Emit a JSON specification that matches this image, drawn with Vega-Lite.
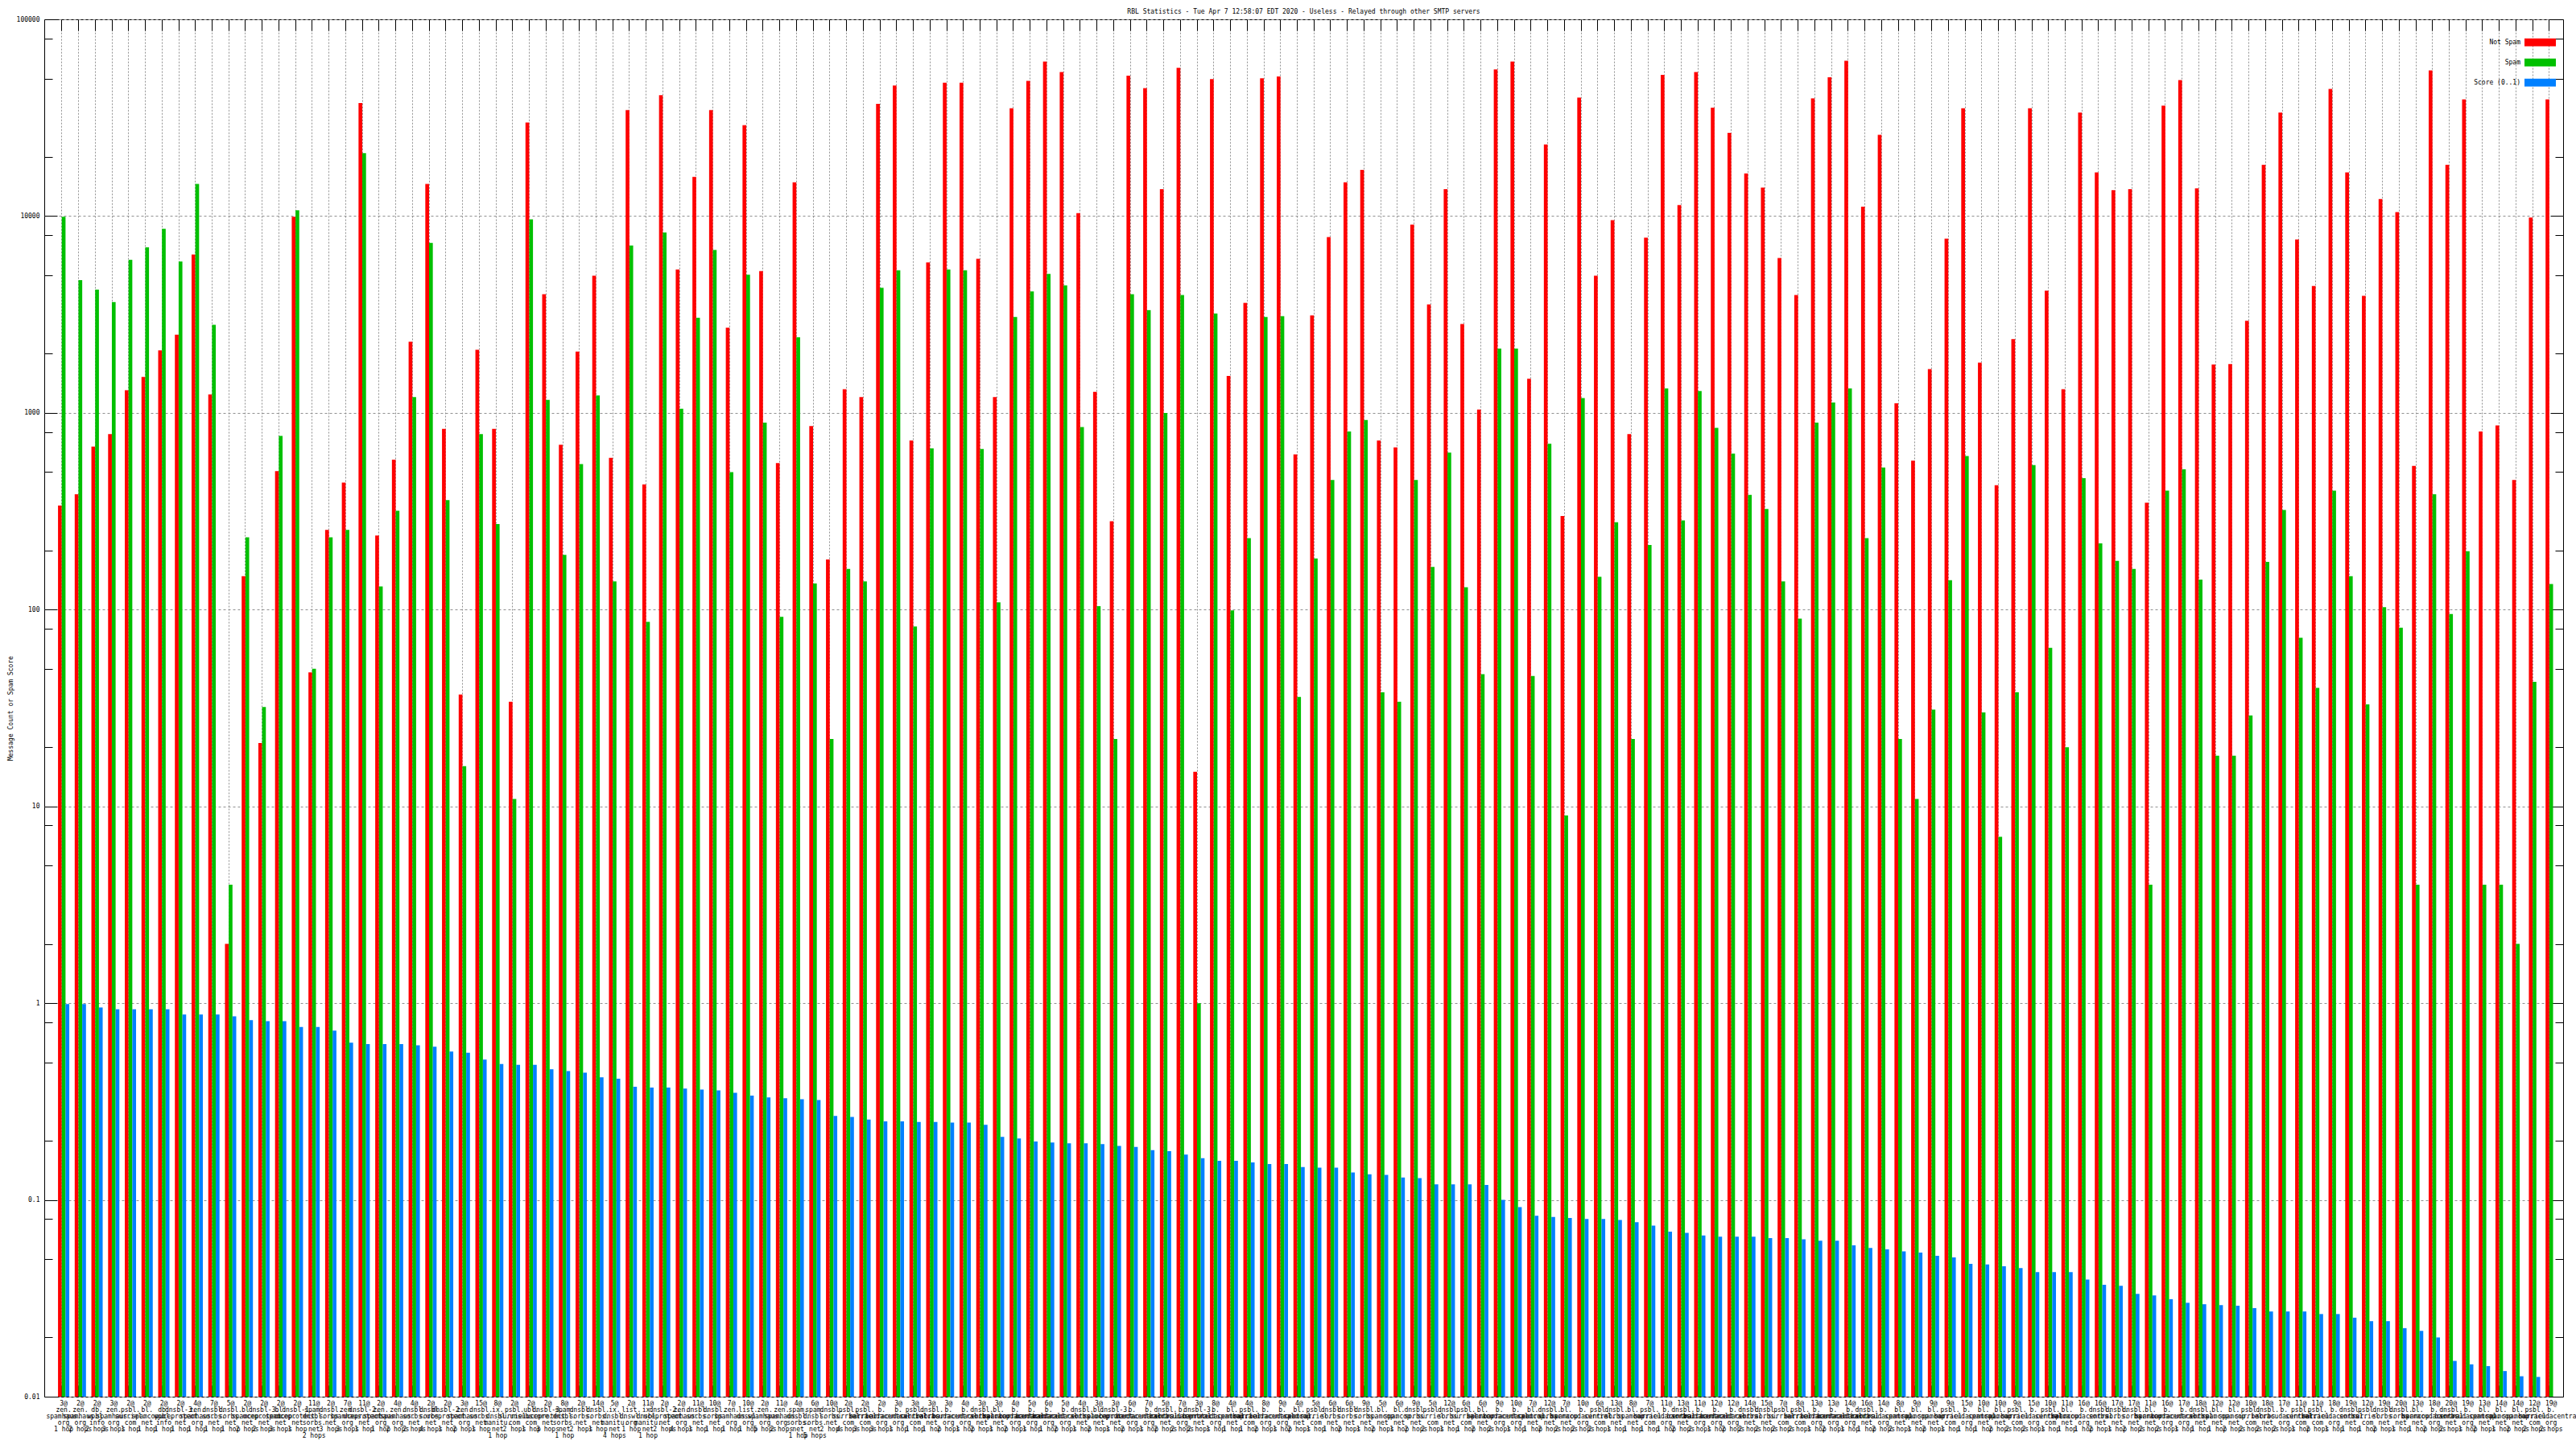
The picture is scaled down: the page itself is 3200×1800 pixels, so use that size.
{
  "$schema": "https://vega.github.io/schema/vega-lite/v6.json",
  "width": 3129,
  "height": 1711,
  "autosize": {"type": "none"},
  "padding": {"left": 55, "top": 24, "right": 16, "bottom": 65},
  "background": "white",
  "title": {"text": "RBL Statistics - Tue Apr  7 12:58:07 EDT 2020 - Useless - Relayed through other SMTP servers", "font": "DejaVu Sans Mono", "fontSize": 8, "fontWeight": "normal", "offset": 1, "anchor": "middle", "color": "black"},
  "config": {"view": {"stroke": "black", "strokeWidth": 1}, "font": "DejaVu Sans Mono"},
  "data": {"values": [
    {"lab": "3@|zen.|spamhaus.|org|1 hop", "ham": 338, "spam": 9930, "score": 0.99},
    {"lab": "2@|zen.|spamhaus.|org|2 hops", "ham": 386, "spam": 4730, "score": 0.99},
    {"lab": "2@|db.|wpbl.|info|2 hops", "ham": 674, "spam": 4230, "score": 0.95},
    {"lab": "3@|zen.|spamhaus.|org|3 hops", "ham": 780, "spam": 3660, "score": 0.93},
    {"lab": "2@|psbl.|surriel.|com|1 hop", "ham": 1304, "spam": 6000, "score": 0.93},
    {"lab": "2@|bl.|spamcop.|net|1 hop", "ham": 1523, "spam": 6930, "score": 0.93},
    {"lab": "2@|db.|wpbl.|info|1 hop", "ham": 2075, "spam": 8610, "score": 0.93},
    {"lab": "2@|dnsbl-3.|uceprotect.|net|1 hop", "ham": 2496, "spam": 5880, "score": 0.875},
    {"lab": "4@|zen.|spamhaus.|org|1 hop", "ham": 6380, "spam": 14550, "score": 0.875},
    {"lab": "7@|dnsbl.|sorbs.|net|1 hop", "ham": 1239, "spam": 2800, "score": 0.875},
    {"lab": "5@|dnsbl.|sorbs.|net|1 hop", "ham": 2.0, "spam": 4.0, "score": 0.857},
    {"lab": "2@|bl.|spamcop.|net|2 hops", "ham": 148, "spam": 233, "score": 0.82},
    {"lab": "2@|dnsbl-3.|uceprotect.|net|2 hops", "ham": 21, "spam": 32, "score": 0.81},
    {"lab": "2@|bl.|spamcop.|net|3 hops", "ham": 506, "spam": 764, "score": 0.81},
    {"lab": "2@|dnsbl-1.|uceprotect.|net|1 hop", "ham": 9930, "spam": 10690, "score": 0.757},
    {"lab": "11@|spam.|dnsbl.|sorbs.|net|2 hops", "ham": 48, "spam": 50, "score": 0.757},
    {"lab": "2@|dnsbl.|sorbs.|net|3 hops", "ham": 254, "spam": 233, "score": 0.726},
    {"lab": "7@|zen.|spamhaus.|org|3 hops", "ham": 442, "spam": 254, "score": 0.63},
    {"lab": "11@|dnsbl-2.|uceprotect.|net|1 hop", "ham": 37580, "spam": 20900, "score": 0.62},
    {"lab": "2@|zen.|spamhaus.|org|1 hop", "ham": 238, "spam": 131, "score": 0.62},
    {"lab": "4@|zen.|spamhaus.|org|2 hops", "ham": 578, "spam": 318, "score": 0.62},
    {"lab": "4@|dnsbl.|sorbs.|net|2 hops", "ham": 2300, "spam": 1202, "score": 0.61},
    {"lab": "2@|dnsbl.|sorbs.|net|4 hops", "ham": 14550, "spam": 7300, "score": 0.60},
    {"lab": "2@|dnsbl-2.|uceprotect.|net|1 hop", "ham": 830, "spam": 360, "score": 0.567},
    {"lab": "3@|zen.|spamhaus.|org|2 hops", "ham": 37, "spam": 16, "score": 0.56},
    {"lab": "15@|dnsbl.|sorbs.|net|1 hop", "ham": 2094, "spam": 780, "score": 0.517},
    {"lab": "8@|ix.|dnsbl.|manitu.|net|1 hop", "ham": 830, "spam": 272, "score": 0.491},
    {"lab": "2@|psbl.|surriel.|com|2 hops", "ham": 34, "spam": 10.9, "score": 0.486},
    {"lab": "2@|ubl.|unsubscore.|com|1 hop", "ham": 29900, "spam": 9630, "score": 0.486},
    {"lab": "2@|dnsbl-3.|uceprotect.|net|3 hops", "ham": 4010, "spam": 1164, "score": 0.461},
    {"lab": "8@|spam.|dnsbl.|sorbs.|net|1 hop", "ham": 689, "spam": 190, "score": 0.452},
    {"lab": "2@|dnsbl.|sorbs.|net|2 hops", "ham": 2050, "spam": 549, "score": 0.443},
    {"lab": "14@|dnsbl.|sorbs.|net|1 hop", "ham": 4980, "spam": 1227, "score": 0.42},
    {"lab": "5@|ix.|dnsbl.|manitu.|net|4 hops", "ham": 590, "spam": 139, "score": 0.413},
    {"lab": "2@|list.|dnswl.|org|1 hop", "ham": 34570, "spam": 7080, "score": 0.376},
    {"lab": "11@|ix.|dnsbl.|manitu.|net|1 hop", "ham": 433, "spam": 86.7, "score": 0.372},
    {"lab": "2@|dnsbl-2.|uceprotect.|net|2 hops", "ham": 41200, "spam": 8260, "score": 0.372},
    {"lab": "2@|zen.|spamhaus.|org|4 hops", "ham": 5350, "spam": 1050, "score": 0.368},
    {"lab": "11@|dnsbl.|sorbs.|net|1 hop", "ham": 15800, "spam": 3040, "score": 0.364},
    {"lab": "10@|dnsbl.|sorbs.|net|1 hop", "ham": 34570, "spam": 6720, "score": 0.36},
    {"lab": "7@|zen.|spamhaus.|org|1 hop", "ham": 2710, "spam": 500, "score": 0.35},
    {"lab": "10@|list.|dnswl.|org|1 hop", "ham": 29000, "spam": 5030, "score": 0.339},
    {"lab": "2@|zen.|spamhaus.|org|5 hops", "ham": 5250, "spam": 891, "score": 0.332},
    {"lab": "11@|zen.|spamhaus.|org|2 hops", "ham": 555, "spam": 92, "score": 0.329},
    {"lab": "4@|spam.|dnsbl.|sorbs.|net|1 hop", "ham": 14860, "spam": 2420, "score": 0.325},
    {"lab": "6@|spam.|dnsbl.|sorbs.|net|5 hops", "ham": 856, "spam": 136, "score": 0.322},
    {"lab": "10@|dnsbl.|sorbs.|net|2 hops", "ham": 180, "spam": 22, "score": 0.267},
    {"lab": "2@|psbl.|surriel.|com|4 hops", "ham": 1318, "spam": 161, "score": 0.264},
    {"lab": "2@|psbl.|surriel.|com|3 hops", "ham": 1202, "spam": 139, "score": 0.256},
    {"lab": "2@|b.|barracudacentral.|org|3 hops", "ham": 37200, "spam": 4320, "score": 0.251},
    {"lab": "3@|b.|barracudacentral.|org|1 hop", "ham": 46100, "spam": 5300, "score": 0.251},
    {"lab": "3@|psbl.|surriel.|com|1 hop", "ham": 724, "spam": 82, "score": 0.249},
    {"lab": "3@|dnsbl.|sorbs.|net|1 hop", "ham": 5820, "spam": 660, "score": 0.249},
    {"lab": "3@|b.|barracudacentral.|org|2 hops", "ham": 47600, "spam": 5350, "score": 0.247},
    {"lab": "4@|b.|barracudacentral.|org|1 hop", "ham": 47600, "spam": 5300, "score": 0.247},
    {"lab": "3@|dnsbl.|sorbs.|net|2 hops", "ham": 6060, "spam": 655, "score": 0.241},
    {"lab": "3@|bl.|spamcop.|net|1 hop", "ham": 1202, "spam": 109, "score": 0.209},
    {"lab": "4@|b.|barracudacentral.|org|2 hops", "ham": 35300, "spam": 3070, "score": 0.205},
    {"lab": "5@|b.|barracudacentral.|org|1 hop", "ham": 48600, "spam": 4140, "score": 0.198},
    {"lab": "6@|b.|barracudacentral.|org|1 hop", "ham": 61000, "spam": 5080, "score": 0.196},
    {"lab": "5@|b.|barracudacentral.|org|2 hops", "ham": 53900, "spam": 4450, "score": 0.194},
    {"lab": "4@|dnsbl.|sorbs.|net|1 hop", "ham": 10350, "spam": 846, "score": 0.194},
    {"lab": "3@|bl.|spamcop.|net|2 hops", "ham": 1280, "spam": 104, "score": 0.192},
    {"lab": "3@|dnsbl-3.|uceprotect.|net|1 hop", "ham": 281, "spam": 22, "score": 0.188},
    {"lab": "6@|b.|barracudacentral.|org|2 hops", "ham": 51700, "spam": 4010, "score": 0.186},
    {"lab": "7@|b.|barracudacentral.|org|1 hop", "ham": 44700, "spam": 3330, "score": 0.179},
    {"lab": "5@|dnsbl.|sorbs.|net|2 hops", "ham": 13700, "spam": 998, "score": 0.177},
    {"lab": "7@|b.|barracudacentral.|org|2 hops", "ham": 56700, "spam": 3970, "score": 0.170},
    {"lab": "3@|dnsbl-3.|uceprotect.|net|2 hops", "ham": 15, "spam": 1.0, "score": 0.163},
    {"lab": "8@|b.|barracudacentral.|org|1 hop", "ham": 49700, "spam": 3200, "score": 0.158},
    {"lab": "4@|bl.|spamcop.|net|1 hop", "ham": 1540, "spam": 99, "score": 0.158},
    {"lab": "4@|psbl.|surriel.|com|1 hop", "ham": 3620, "spam": 231, "score": 0.155},
    {"lab": "8@|b.|barracudacentral.|org|2 hops", "ham": 50100, "spam": 3070, "score": 0.152},
    {"lab": "9@|b.|barracudacentral.|org|1 hop", "ham": 51200, "spam": 3100, "score": 0.152},
    {"lab": "4@|bl.|spamcop.|net|2 hops", "ham": 615, "spam": 36, "score": 0.147},
    {"lab": "5@|psbl.|surriel.|com|1 hop", "ham": 3130, "spam": 182, "score": 0.146},
    {"lab": "6@|dnsbl.|sorbs.|net|1 hop", "ham": 7830, "spam": 456, "score": 0.146},
    {"lab": "6@|dnsbl.|sorbs.|net|2 hops", "ham": 14860, "spam": 804, "score": 0.138},
    {"lab": "9@|dnsbl.|sorbs.|net|1 hop", "ham": 17180, "spam": 919, "score": 0.135},
    {"lab": "5@|bl.|spamcop.|net|2 hops", "ham": 724, "spam": 38, "score": 0.134},
    {"lab": "6@|bl.|spamcop.|net|1 hop", "ham": 668, "spam": 34, "score": 0.130},
    {"lab": "9@|dnsbl.|sorbs.|net|2 hops", "ham": 9050, "spam": 456, "score": 0.129},
    {"lab": "5@|psbl.|surriel.|com|2 hops", "ham": 3550, "spam": 165, "score": 0.120},
    {"lab": "12@|dnsbl.|sorbs.|net|1 hop", "ham": 13700, "spam": 628, "score": 0.12},
    {"lab": "6@|psbl.|surriel.|com|1 hop", "ham": 2830, "spam": 130, "score": 0.12},
    {"lab": "6@|bl.|spamcop.|net|2 hops", "ham": 1040, "spam": 47, "score": 0.119},
    {"lab": "9@|b.|barracudacentral.|org|2 hops", "ham": 55600, "spam": 2120, "score": 0.1},
    {"lab": "10@|b.|barracudacentral.|org|1 hop", "ham": 61000, "spam": 2120, "score": 0.092},
    {"lab": "7@|bl.|spamcop.|net|1 hop", "ham": 1492, "spam": 46, "score": 0.083},
    {"lab": "12@|dnsbl.|sorbs.|net|2 hops", "ham": 23100, "spam": 696, "score": 0.082},
    {"lab": "7@|bl.|spamcop.|net|2 hops", "ham": 299, "spam": 9.0, "score": 0.081},
    {"lab": "10@|b.|barracudacentral.|org|2 hops", "ham": 40000, "spam": 1190, "score": 0.080},
    {"lab": "6@|psbl.|surriel.|com|2 hops", "ham": 4980, "spam": 147, "score": 0.08},
    {"lab": "13@|dnsbl.|sorbs.|net|1 hop", "ham": 9530, "spam": 278, "score": 0.079},
    {"lab": "8@|bl.|spamcop.|net|1 hop", "ham": 780, "spam": 22, "score": 0.077},
    {"lab": "7@|psbl.|surriel.|com|1 hop", "ham": 7760, "spam": 213, "score": 0.074},
    {"lab": "11@|b.|barracudacentral.|org|1 hop", "ham": 52200, "spam": 1332, "score": 0.069},
    {"lab": "13@|dnsbl.|sorbs.|net|2 hops", "ham": 11380, "spam": 284, "score": 0.068},
    {"lab": "11@|b.|barracudacentral.|org|2 hops", "ham": 53900, "spam": 1290, "score": 0.066},
    {"lab": "12@|b.|barracudacentral.|org|1 hop", "ham": 35600, "spam": 838, "score": 0.065},
    {"lab": "12@|b.|barracudacentral.|org|2 hops", "ham": 26500, "spam": 621, "score": 0.065},
    {"lab": "14@|dnsbl.|sorbs.|net|2 hops", "ham": 16480, "spam": 383, "score": 0.065},
    {"lab": "15@|dnsbl.|sorbs.|net|2 hops", "ham": 13970, "spam": 325, "score": 0.064},
    {"lab": "7@|psbl.|surriel.|com|2 hops", "ham": 6120, "spam": 139, "score": 0.064},
    {"lab": "8@|psbl.|surriel.|com|2 hops", "ham": 3970, "spam": 90, "score": 0.063},
    {"lab": "13@|b.|barracudacentral.|org|1 hop", "ham": 39600, "spam": 891, "score": 0.062},
    {"lab": "13@|b.|barracudacentral.|org|2 hops", "ham": 50700, "spam": 1130, "score": 0.062},
    {"lab": "14@|b.|barracudacentral.|org|1 hop", "ham": 61600, "spam": 1332, "score": 0.0587},
    {"lab": "16@|dnsbl.|sorbs.|net|1 hop", "ham": 11150, "spam": 231, "score": 0.057},
    {"lab": "14@|b.|barracudacentral.|org|2 hops", "ham": 25900, "spam": 527, "score": 0.056},
    {"lab": "8@|bl.|spamcop.|net|2 hops", "ham": 1118, "spam": 22, "score": 0.0547},
    {"lab": "9@|bl.|spamcop.|net|1 hop", "ham": 572, "spam": 10.9, "score": 0.054},
    {"lab": "9@|bl.|spamcop.|net|2 hops", "ham": 1670, "spam": 31, "score": 0.052},
    {"lab": "9@|psbl.|surriel.|com|1 hop", "ham": 7670, "spam": 141, "score": 0.051},
    {"lab": "15@|b.|barracudacentral.|org|1 hop", "ham": 35300, "spam": 603, "score": 0.0473},
    {"lab": "10@|bl.|spamcop.|net|1 hop", "ham": 1800, "spam": 30, "score": 0.047},
    {"lab": "10@|bl.|spamcop.|net|2 hops", "ham": 429, "spam": 7.0, "score": 0.046},
    {"lab": "9@|psbl.|surriel.|com|2 hops", "ham": 2370, "spam": 38, "score": 0.045},
    {"lab": "15@|b.|barracudacentral.|org|2 hops", "ham": 35300, "spam": 543, "score": 0.043},
    {"lab": "10@|psbl.|surriel.|com|1 hop", "ham": 4180, "spam": 64, "score": 0.043},
    {"lab": "11@|bl.|spamcop.|net|1 hop", "ham": 1318, "spam": 20, "score": 0.043},
    {"lab": "16@|b.|barracudacentral.|org|1 hop", "ham": 33600, "spam": 466, "score": 0.0394},
    {"lab": "16@|dnsbl.|sorbs.|net|2 hops", "ham": 16650, "spam": 217, "score": 0.037},
    {"lab": "17@|dnsbl.|sorbs.|net|1 hop", "ham": 13540, "spam": 177, "score": 0.0366},
    {"lab": "17@|dnsbl.|sorbs.|net|2 hops", "ham": 13700, "spam": 161, "score": 0.0333},
    {"lab": "11@|bl.|spamcop.|net|2 hops", "ham": 349, "spam": 4.0, "score": 0.0327},
    {"lab": "16@|b.|barracudacentral.|org|2 hops", "ham": 36400, "spam": 402, "score": 0.0313},
    {"lab": "17@|b.|barracudacentral.|org|1 hop", "ham": 49100, "spam": 516, "score": 0.030},
    {"lab": "18@|dnsbl.|sorbs.|net|1 hop", "ham": 13830, "spam": 142, "score": 0.0295},
    {"lab": "12@|bl.|spamcop.|net|1 hop", "ham": 1760, "spam": 18.1, "score": 0.0292},
    {"lab": "12@|bl.|spamcop.|net|2 hops", "ham": 1770, "spam": 18.1, "score": 0.029},
    {"lab": "10@|psbl.|surriel.|com|2 hops", "ham": 2940, "spam": 29, "score": 0.0282},
    {"lab": "18@|dnsbl.|sorbs.|net|2 hops", "ham": 18240, "spam": 175, "score": 0.0271},
    {"lab": "17@|b.|barracudacentral.|org|2 hops", "ham": 33600, "spam": 321, "score": 0.0271},
    {"lab": "11@|psbl.|surriel.|com|1 hop", "ham": 7600, "spam": 72, "score": 0.0271},
    {"lab": "11@|psbl.|surriel.|com|2 hops", "ham": 4410, "spam": 40, "score": 0.0263},
    {"lab": "18@|b.|barracudacentral.|org|1 hop", "ham": 44300, "spam": 402, "score": 0.0263},
    {"lab": "19@|dnsbl.|sorbs.|net|1 hop", "ham": 16650, "spam": 148, "score": 0.0252},
    {"lab": "12@|psbl.|surriel.|com|1 hop", "ham": 3930, "spam": 33, "score": 0.0242},
    {"lab": "19@|dnsbl.|sorbs.|net|2 hops", "ham": 12220, "spam": 103, "score": 0.0242},
    {"lab": "20@|dnsbl.|sorbs.|net|1 hop", "ham": 10470, "spam": 81, "score": 0.0223},
    {"lab": "13@|bl.|spamcop.|net|1 hop", "ham": 537, "spam": 4.0, "score": 0.0216},
    {"lab": "18@|b.|barracudacentral.|org|2 hops", "ham": 55000, "spam": 386, "score": 0.020},
    {"lab": "20@|dnsbl.|sorbs.|net|2 hops", "ham": 18240, "spam": 95, "score": 0.0152},
    {"lab": "19@|b.|barracudacentral.|org|1 hop", "ham": 39200, "spam": 198, "score": 0.0146},
    {"lab": "13@|bl.|spamcop.|net|2 hops", "ham": 804, "spam": 4.0, "score": 0.0143},
    {"lab": "14@|bl.|spamcop.|net|1 hop", "ham": 863, "spam": 4.0, "score": 0.0135},
    {"lab": "14@|bl.|spamcop.|net|2 hops", "ham": 456, "spam": 2.0, "score": 0.0127},
    {"lab": "12@|psbl.|surriel.|com|2 hops", "ham": 9840, "spam": 43, "score": 0.0126},
    {"lab": "19@|b.|barracudacentral.|org|2 hops", "ham": 39200, "spam": 135, "score": null}
  ]},
  "transform": [
    {"fold": ["ham", "spam", "score"], "as": ["key", "value"]},
    {"filter": "isValid(datum.value) && datum.value > 0"}
  ],
  "layer": [
    {
      "mark": {"type": "bar"},
      "encoding": {
        "x": {"field": "lab", "type": "nominal", "sort": null,
          "scale": {"paddingInner": 0.325, "paddingOuter": 0.6, "align": 0.686},
          "axis": {"orient": "bottom", "title": null, "domain": false, "ticks": true, "tickSize": -14, "tickColor": "black",
            "bandPosition": 0.34, "grid": true, "gridColor": "#909090", "gridDash": [2, 2], "gridWidth": 1,
            "labelExpr": "split(datum.label, '|')", "labelFont": "DejaVu Sans Mono", "labelFontSize": 8, "labelLineHeight": 8,
            "labelPadding": 18, "labelAngle": 0, "labelAlign": "center", "labelBaseline": "top", "labelOverlap": false,
            "labelBound": false, "labelFlush": false, "labelLimit": 0, "labelColor": "black"}},
        "xOffset": {"field": "key", "type": "nominal", "sort": ["ham", "spam", "score"], "scale": {"paddingInner": 0, "paddingOuter": 0}},
        "y": {"field": "value", "type": "quantitative",
          "scale": {"type": "log", "domain": [0.01, 100000], "nice": false},
          "axis": {"orient": "left", "title": "Message Count or Spam Score", "titleFont": "DejaVu Sans Mono", "titleFontSize": 8,
            "titleFontWeight": "normal", "titlePadding": 3, "titleColor": "black",
            "values": [0.01, 0.02, 0.05, 0.08, 0.1, 0.2, 0.5, 0.8, 1, 2, 5, 8, 10, 20, 50, 80, 100, 200, 500, 800, 1000, 2000, 5000, 8000, 10000, 20000, 50000, 80000, 100000],
            "domain": false, "tickColor": "black",
            "tickSize": {"condition": {"test": "abs(log(datum.value)/LN10 - round(log(datum.value)/LN10)) < 0.01", "value": -16}, "value": -10},
            "labelExpr": "abs(log(datum.value)/LN10 - round(log(datum.value)/LN10)) < 0.01 ? format(datum.value, '~g') : ''",
            "labelPadding": 22, "labelFont": "DejaVu Sans Mono", "labelFontSize": 8, "labelBaseline": "middle", "labelAlign": "right", "labelColor": "black",
            "labelOverlap": false, "labelBound": false, "labelFlush": false,
            "grid": true, "gridDash": [3, 3], "gridColor": "#909090",
            "gridOpacity": {"condition": {"test": "abs(log(datum.value)/LN10 - round(log(datum.value)/LN10)) < 0.01", "value": 1}, "value": 0}}},
        "y2": {"datum": 0.01},
        "color": {"field": "key", "type": "nominal", "sort": ["ham", "spam", "score"],
          "scale": {"domain": ["ham", "spam", "score"], "range": ["#ff0000", "#00c000", "#0080ff"]},
          "legend": {"title": null, "orient": "top-right", "offset": 9,
            "symbolType": "M-1,-0.25H1V0.25H-1Z", "symbolSize": 1521, "symbolStrokeWidth": 0, "symbolOpacity": 1,
            "labelAlign": "right", "labelOffset": -44, "labelFont": "DejaVu Sans Mono", "labelFontSize": 8, "labelColor": "black",
            "rowPadding": -21,
            "labelExpr": "datum.label == 'ham' ? 'Not Spam' : datum.label == 'spam' ? 'Spam' : 'Score (0..1)'"}}
      }
    },
    {
      "mark": {"type": "tick", "opacity": 0},
      "encoding": {
        "x": {"field": "lab", "type": "nominal", "sort": null,
          "axis": {"orient": "top", "title": null, "labels": false, "domain": false, "grid": false, "tickSize": -14, "tickColor": "black", "bandPosition": 0.34}},
        "y": {"field": "value", "type": "quantitative",
          "axis": {"orient": "right", "title": null, "labels": false, "domain": false, "grid": false, "tickColor": "black",
            "values": [0.01, 0.02, 0.05, 0.08, 0.1, 0.2, 0.5, 0.8, 1, 2, 5, 8, 10, 20, 50, 80, 100, 200, 500, 800, 1000, 2000, 5000, 8000, 10000, 20000, 50000, 80000, 100000],
            "tickSize": {"condition": {"test": "abs(log(datum.value)/LN10 - round(log(datum.value)/LN10)) < 0.01", "value": -16}, "value": -10}}}
      }
    }
  ],
  "resolve": {"axis": {"x": "independent", "y": "independent"}}
}
